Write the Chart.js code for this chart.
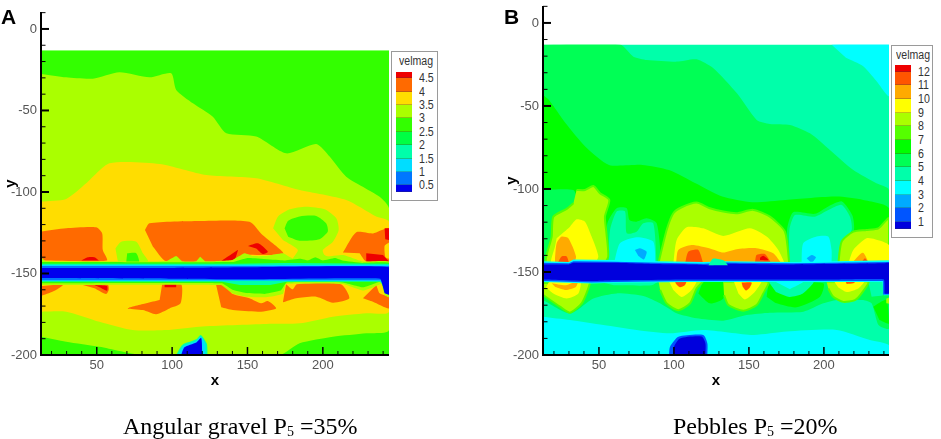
<!DOCTYPE html>
<html><head><meta charset="utf-8">
<script src="https://cdn.jsdelivr.net/npm/chart.js@4"></script>
<style>
html,body{margin:0;padding:0;background:#fff;width:941px;height:439px;overflow:hidden}
#stage{position:relative;width:941px;height:439px;filter:blur(.55px);font-family:"Liberation Sans",Arial,sans-serif}
canvas{position:absolute;top:0}
.letter{position:absolute;font-weight:bold;font-size:21px;line-height:20px;color:#000}
.cap{position:absolute;font-family:"Liberation Serif",serif;font-size:24px;line-height:26px;color:#000;white-space:nowrap}
.cap sub{font-size:14px;line-height:0;vertical-align:-2px}
.lg{position:absolute;border:1px solid #9a9a9a;background:#fff;box-sizing:border-box}
.lg .t{position:absolute;font-size:12px;color:#333;line-height:12px;transform:scaleX(.88);transform-origin:left center}
.lg .s{position:absolute}
.lg .l{position:absolute;font-size:12.5px;color:#333;line-height:14px;transform:scaleX(.85);transform-origin:left center}
</style></head><body><div id="stage">
<canvas id="a" width="470" height="439" style="left:0"></canvas>
<canvas id="b" width="471" height="439" style="left:470px"></canvas>
<div class="letter" style="left:1px;top:7px">A</div>
<div class="letter" style="left:504px;top:7px">B</div>
<div class="cap" style="left:123px;top:413px">Angular gravel P<sub>5</sub> =35%</div>
<div class="cap" style="left:673px;top:413px">Pebbles P<sub>5</sub> =20%</div>
</div>
<script>
// ---------- axis values ----------
const xTicks=[50,100,150,200];
const yTicks=[0,-50,-100,-150,-200];
const xMinor=[20,30,40,60,70,80,90,110,120,130,140,160,170,180,190,210,220,230,240];
const yMinor=[10,-10,-20,-30,-40,-60,-70,-80,-90,-110,-120,-130,-140,-160,-170,-180,-190];

// ---------- legend values ----------
const legendLevelsA=['4.5','4','3.5','3','2.5','2','1.5','1','0.5'];
const legendColorsA=['#ee0000','#ff6a00','#ffdd00','#aaff00','#33ff00','#00ff44','#00ffaa','#00ddff','#0077ff','#0000ee'];
const legendLevelsB=['12','11','10','9','8','7','6','5','4','3','2','1'];
const legendColorsB=['#ee0000','#ff5500','#ffaa00','#ffff00','#aaff00','#55ff00','#00ff00','#00ff55','#00ffaa','#00ffff','#00aaff','#0055ff','#0000dd'];

// ---------- panel A contours (x,y pairs) ----------
const A_BG=[13,-13,243.9,-13,243.9,-200,13,-200];
const A_LIME=[13,-27.6,29.7,-29.7,47.4,-30.5,65,-26.6,85,-29.7,99.4,-27.2,102.7,-37.4,113.8,-45.6,127,-53.8,136,-64,155.8,-66,175.7,-76.3,195.6,-70.6,204.5,-78.3,215.5,-90.6,237.7,-102.9,243.9,-110,243.9,-184.7,228.8,-186.7,206.7,-188.8,184.6,-192.8,171.3,-200,80.5,-200,51.8,-194.9,29.7,-191.8,13,-188.8];
const A_YELLOW=[13,-105.9,29.7,-104.3,43,-94.7,58.5,-82.4,91.7,-82.8,122.7,-89.6,155.8,-91.6,184.6,-98.8,215.5,-104.9,235.4,-115,243.9,-118.2,243.9,-173.4,228.8,-174.4,206.7,-176.5,184.6,-180.6,162.4,-181,118,-182.6,95.9,-184.7,73.8,-184.7,51.8,-179.6,29.7,-173.4,13,-173.4];
const A_RING=[167,-122.3,170.3,-115,178,-110.6,189,-109,201.2,-110.6,209,-116.2,210.5,-123.3,206.7,-130.5,200,-135.6,201.2,-138.7,209,-141.7,180,-141.7,183.4,-135.6,173.5,-129.5];
const A_CORE=[174.6,-122.3,177,-117.6,184.6,-115,195.6,-114.7,202.2,-119.2,203.3,-124.3,197.8,-129,184.6,-129.9,177,-127.4];
const A_O1=[13,-124.3,29.7,-122.3,49.6,-121.7,53.6,-125.4,54,-135.6,56.7,-142.1,13,-142.1];
const A_R1=[39.7,-142.1,44.1,-140.1,48.5,-140.1,51.4,-142.1];
const A_O2=[82,-123.3,85,-119.2,118,-117.8,151.3,-118.2,160,-126.4,173.9,-137.6,162.4,-138.7,147,-138.7,138,-142.5,96,-142.5,87.2,-133.5];
const A_R2=[150.3,-133.1,157,-131.5,163.5,-136.6,160.2,-138,155.8,-134.6];
const A_R3=[132.6,-142.3,140.3,-137.6,143.6,-135.6,141.4,-142.3];
const A_O3=[213.3,-137.2,222.2,-124.7,233.3,-125.4,243.9,-122.3,243.9,-142.7,228.8,-142.7,224.4,-137.6];
const A_Y3=[243.9,-131,241,-133,241.5,-140,243.9,-141];
const A_R4=[228.8,-137.6,239.9,-138.7,243.9,-142.7,228.8,-142.7];
const A_R5=[241,-122.3,243.9,-122.3,243.9,-129.4,241.4,-129];
const A_SPOT1=[62.4,-134.6,66.2,-130.5,76.2,-130.5,80.6,-137.6,84,-142.7,64,-142.7];
const A_SPOT2=[70.2,-137.6,76.2,-137.6,78,-143.4,69.5,-143.4];
const A_O4=[13,-157.7,27.5,-157,20.9,-161.1,13,-163.8];
const A_O5=[40.8,-157,57.4,-157,58,-160,56.2,-162.6,48.5,-159];
const A_R6=[48.5,-157,56.8,-157.7,56.8,-160.6,51.8,-158.5];
const A_O6=[93.4,-156.6,106,-156.6,105.6,-168.3,98.3,-171.4,89.4,-175,80.6,-172.4,70.6,-171.4,82.8,-168.3,91.7,-166.3];
const A_R7=[95,-156.6,102.7,-156.6,102.7,-158.5,95,-158.5];
const A_O7=[129.2,-157,134,-157,140.3,-162.6,151.3,-165.2,159,-168.3,163.5,-166.9,169,-171.4,158,-173.4,140.3,-172.4,132.6,-170.7];
const A_O8=[175.6,-156.6,180,-159.7,182.8,-156.6,212,-156.6,217.6,-165.2,206.7,-167.9,195.6,-164.2,182.3,-165.2,173.5,-167.7];
const A_O9=[235.5,-157,237.7,-162.1,243.9,-164.6,243.9,-171.4,233.2,-167.3,226.6,-165.2];
const A_BAND1=[13,-140,16.4,-142.5,96,-142.5,102.7,-139.3,106.7,-142.5,116,-142.5,118.6,-139.7,122,-142.5,140,-141.7,148,-137.6,153.5,-139.3,162.4,-139.3,173.5,-137.6,182,-141.7,213.3,-138.7,226.6,-142.7,243.9,-142.7,243.9,-164.6,241,-163.2,238.8,-156.4,235.5,-157.6,226.6,-160.5,213.3,-156.4,175.6,-156.4,173.5,-162.6,162.4,-164.6,149,-164.2,140,-162.2,132.3,-157.1,13,-157.1];
const A_BAND2=[13,-143,140,-143,150,-140.5,175,-142,185,-141,190,-142,195,-140,200,-142,208,-140.5,213,-142,226,-143.5,243.9,-143.5,243.9,-161,241,-160,238.5,-155,235,-156,226.6,-158.5,213,-155.5,176,-155.5,172,-160.5,162,-162.5,149,-162,140,-160,133,-156,13,-156];
const A_BAND3=[13,-144,145,-144,175,-143.5,243.9,-144,243.9,-159,241,-158.5,238,-155,176,-155,165,-157,145,-157,133,-155,13,-155];
const A_BAND4=[13,-144.8,243.9,-144.8,243.9,-158,241,-157.5,238,-154.6,13,-154.6];
const A_BAND5=[13,-145.4,243.9,-145.4,243.9,-161.5,241,-160.5,238.5,-154.2,13,-154.2];
const A_BAND6=[13,-146.6,100,-146.6,150,-146.2,243.9,-146.2,243.9,-163,241,-162,238,-153.2,150,-153.6,100,-153.2,13,-152.8];
const A_PIT1=[102.7,-200,106.7,-193.8,116,-190.4,119,-187.7,123,-193,123.5,-200];
const A_PIT2=[104,-200,107.4,-194.6,116,-191.4,119.2,-188.6,122,-193.5,122,-200];
const A_PIT3=[106,-200,108.2,-195.3,116,-192.3,119.3,-189.4,120,-200];
const A_MASK=[13,-13,243.9,-13,243.9,10.4,13,10.4];

// ---------- panel B contours (x,y pairs) ----------
const B_BG=[12.7,-13,243.4,-13,243.4,-200,12.7,-200];
const B_CORNER=[205,-13,243.4,-13,243.4,-44,235,-35,226,-26,214.7,-21];
const B_LOWCYAN=[12.7,-176.9,30.7,-178.9,53,-181.9,75.1,-184.9,97.4,-186.9,119.6,-184.9,153,-187.9,175.2,-185.9,208.5,-184.9,230.7,-191,243.4,-194,243.4,-200,12.7,-200];
const B_PIT1=[96.7,-200,97.4,-195,103,-189,119.6,-187.9,122.3,-193,122.3,-200];
const B_PIT2=[99.6,-200,100,-195,104,-190,118.5,-188.9,121,-193,121,-200];
const B_G5=[12.7,-13,64,-13,73,-20.3,82,-22.3,102,-23.3,115,-21.9,126.3,-27.3,142,-42.4,155.2,-58.4,164,-60.8,177.4,-61.4,190.7,-66.5,204,-76.5,219.6,-88.6,235,-96.6,243.4,-100.6,243.4,-184,236.4,-182,231.8,-168.9,226.2,-166.9,208.5,-166.9,199.6,-168.9,186.3,-173.9,164,-174.5,148.5,-175.9,132.9,-179.3,115.1,-177.9,101.8,-174.9,90.7,-168.9,79.6,-164.5,61.8,-162.9,46.3,-165.9,30.7,-175,12.7,-166.9];
const B_G6=[12.7,-43.4,16.7,-46.4,27.8,-60.4,41,-74.5,56.7,-85.5,78.9,-85.5,96.7,-88.6,114.4,-96.6,132.2,-104.6,152.2,-108,174.4,-106.6,208.5,-104.6,226.2,-106.6,243.4,-111.6,243.4,-148,12.7,-148];
const B_LEFT=[12.7,-100.6,32.9,-100.6,35.1,-106.6,28.5,-111.6,19.6,-116.7,18.5,-132.7,14.7,-143.8,12.7,-145];
const B_MID1=[52.9,-145,55.6,-120.7,61.8,-111.6,68.5,-111.6,70.3,-118.7,75.1,-119.7,81.8,-117.7,88.5,-120.7,91.8,-145];
const B_MID2=[56.2,-145,57.4,-124.7,61.8,-113.6,67.4,-113.6,68.5,-126.7,75.1,-125.7,79.6,-120.7,86.2,-120.7,88.5,-145];
const B_MID3=[60,-145,64,-132.7,75.1,-129.1,86.2,-131.7,87.6,-145];
const B_MID4=[74,-136.7,77.4,-135.7,81.8,-137.8,80,-142.4,76.3,-140.3];
const B_RGT1=[175,-145,175.5,-124,179.5,-114,194,-115,202.9,-110.5,212,-107.5,219,-116,220,-125,213,-135,211.5,-145];
const B_RGT2=[177,-145,177,-124.7,180.7,-115.7,194,-116.7,202.9,-112.7,211.8,-109.6,217.4,-116.7,218.5,-124.7,210.7,-134.7,209.6,-145];
const B_RGT3=[185.1,-145,186.2,-132.7,195.1,-128.7,202.9,-128.7,205.1,-136.7,205.1,-145];
const B_RGT4=[188.5,-141.7,191.8,-139.7,194.7,-141.1,191.8,-144.8];
const B_U1L=[35.1,-100.6,40.7,-100.6,46.3,-98.2,50.7,-102.6,56.9,-106.6,54,-116.7,55,-126.7,56.2,-140.7,52.9,-145,15.1,-145,18.5,-128.7,19.6,-116.7,28.5,-112,33,-108.6];
const B_U1Y=[21.8,-129.7,30.7,-122.7,35.1,-118.3,40.7,-119.7,45.1,-128.7,49.6,-140.7,46.3,-145,18.5,-145,20.7,-134.7];
const B_U1O=[20.7,-141.7,21.8,-132.7,25.1,-128.7,29.6,-129.7,34.7,-140.7,32.8,-145,20.7,-145];
const B_U1R=[22.3,-145,25.1,-140.7,28.5,-140.7,30.2,-145];
const B_U2L=[89.6,-145,95.2,-124.6,99.6,-114.6,105.2,-111,115.1,-108.2,124,-111.6,132.9,-113.6,141.8,-114.6,152.9,-112.6,164,-116.7,174,-125.7,176.9,-145];
const B_U2Y=[99.6,-145,101.8,-130.7,108.5,-123,119.6,-123.7,132.9,-128.3,150.7,-123.7,161.8,-128.7,169.6,-136.7,174,-145];
const B_U2O=[101.4,-145,102.9,-136.7,111.8,-133.7,124,-135.8,132.9,-138.3,141.8,-136.3,155.1,-135.7,166.2,-138.7,171.8,-145];
const B_U2R1=[107.4,-145,109.6,-137.8,116.3,-136.7,119.6,-145];
const B_U2R2=[154,-145,155.1,-139.8,160.7,-139.2,165.1,-145];
const B_U2D=[157.4,-141.4,159.6,-140.2,163,-142.8,157.4,-142.8];
const B_NOTCH=[123,-146,126,-142,133,-143,136,-146];
const B_U3L=[209.6,-145,211.8,-131.7,219.6,-125.7,228.4,-124.7,236.3,-123.7,243.4,-117.7,243.4,-145];
const B_U3Y=[216.2,-145,219.6,-136.7,228.4,-129.7,234,-130.3,243.4,-133.8,243.4,-145];
const B_U3O=[218.2,-145,225.9,-138.4,230.3,-145];
const B_U3R=[224.5,-145,227.4,-141.7,230,-145];
const B_D1L=[12.7,-156.8,39,-154.8,44,-154.8,42.9,-159.9,38.5,-168.9,30.7,-174.5,24,-170.9,12.7,-163.8];
const B_D1Y=[17.4,-154.8,37.4,-154.8,36.3,-162.9,28.5,-165.9,19.6,-162.9,14.7,-159.3];
const B_D1O=[18.5,-156.8,28,-158,35.9,-155.4,34.6,-159,28,-160.8,20.9,-159];
const B_D2L=[89.6,-154.8,119.6,-154.8,115.1,-159.9,110.7,-168.9,102.9,-173,95.2,-168.9,90.8,-160.8];
const B_D2Y=[96.3,-154.8,115.1,-154.8,111.8,-160.8,105.2,-165,99.6,-160.8];
const B_D2O=[100,-154.4,108.5,-154.4,107.4,-157.8,104,-159.2,101.4,-157.2];
const B_D3L=[132.9,-155.8,162.9,-155.8,159.6,-162.9,155.2,-169.9,146.2,-173.3,136.3,-169.9,133.4,-163.9];
const B_D3Y=[139.6,-154.8,158.5,-154.8,154,-161.9,147.4,-166.5,143,-162.9];
const B_D3O=[145.1,-156.4,151.8,-156.4,150.7,-159.2,148,-161.2,145.8,-158.8];
const B_D4L=[201.8,-155.8,229.6,-155.8,225.1,-162.9,220.7,-166.9,212.9,-168,206.2,-164.9,202.9,-159.9];
const B_D4Y=[206.2,-154.8,227.3,-154.8,222.9,-159.9,215.2,-162,209.6,-159.3];
const B_D4O=[214,-154.8,221.8,-154.8,219.6,-156.8,215.2,-157.2];
const B_G6A=[119.6,-154.8,132.9,-155.8,132.9,-165.9,124,-168.9,116.3,-162.9];
const B_G6B=[163,-156.8,199.6,-156.8,197.4,-164.9,181.8,-171.3,168.5,-168.9,161.8,-164.9];
const B_T1=[163,-155.8,193,-155.8,186,-163,177,-165,168,-162];
const B_C1=[167.4,-155.8,186.3,-155.8,177.4,-160.4];
const B_T2=[229.6,-155.8,243.4,-155.8,243.4,-162.9,231.8,-164.9];
const B_G6C=[232.9,-170.9,241.6,-166.9,243.4,-181,237,-178.9];
const B_L9=[241.6,-166,243.4,-165.5,243.4,-169,241.6,-168.9];
const B_TUNDER=[46,-155,90,-155,85,-158,60,-158];
const B_BAND1=[12.7,-143.6,30,-144,33,-142.5,60,-142.8,90,-143.6,120,-144,135,-143.5,180,-144,243.4,-143,243.4,-164,240,-164,239,-156,205,-156,110,-156,60,-156.5,45,-157,12.7,-156];
const B_BAND2=[12.7,-144.4,30,-144.8,33,-143.6,60,-143.8,90,-144.4,120,-145,135,-144.3,180,-144.8,243.4,-144,243.4,-163.5,240,-163.5,239.5,-155.4,205,-155.4,110,-155.4,60,-156,45,-156.4,12.7,-155.4];
const B_BAND3=[12.7,-145.5,30,-145.5,33,-144.5,60,-144.5,85,-145.2,115,-145.5,124,-146,135,-145,177,-145.5,240,-144.8,243.4,-144.5,243.4,-163,240.5,-163,240,-154.5,205,-154.5,110,-154.5,60,-155,45,-155.5,12.7,-154.5];
const B_MASK=[12.7,-13,243.4,-13,243.4,10.2,12.7,10.2];

const CA={r:'#ee0000',o:'#ff6a00',y:'#ffdd00',l:'#aaff00',g:'#33ff00',g2:'#00ff44',t:'#00ffaa',c:'#00ddff',b:'#0077ff',d:'#0000ee'};
const CB={r:'#ee0000',ro:'#ff5500',o:'#ffaa00',y:'#ffff00',l:'#aaff00',l2:'#55ff00',g:'#00ff00',g2:'#00ff55',t:'#00ffaa',c:'#00ffff',b1:'#00aaff',b2:'#0055ff',d:'#0000dd'};

const layersA=[[A_BG,CA.g,0],[A_LIME,CA.l],[A_YELLOW,CA.y],[A_RING,CA.l],[A_CORE,CA.g],
[A_O1,CA.o],[A_R1,CA.r],[A_O2,CA.o],[A_R2,CA.r],[A_R3,CA.r],[A_O3,CA.o],[A_Y3,CA.y],[A_R4,CA.r,0],[A_R5,CA.r,0],
[A_SPOT1,CA.l],[A_SPOT2,CA.g],[A_O4,CA.o],[A_O5,CA.o],[A_R6,CA.r],[A_O6,CA.o],[A_R7,CA.r,0],[A_O7,CA.o],[A_O8,CA.o],[A_O9,CA.o],
[A_PIT1,CA.t],[A_PIT2,CA.c],[A_PIT3,CA.d],
[A_BAND1,CA.l,0.1],[A_BAND2,CA.g,0.1],[A_BAND3,CA.t,0],[A_BAND4,CA.c,0],[A_BAND5,CA.b,0],[A_BAND6,CA.d,0.1],[A_MASK,'#ffffff',0]];
const layersB=[[B_BG,CB.t,0],[B_CORNER,CB.c],[B_LOWCYAN,CB.c],[B_PIT1,CB.b2],[B_PIT2,CB.d],[B_G5,CB.g2],[B_G6,CB.g],[B_LEFT,CB.g2],
[B_MID1,CB.g2],[B_MID2,CB.t],[B_MID3,CB.c],[B_MID4,CB.b1],[B_RGT1,CB.g2],[B_RGT2,CB.t],[B_RGT3,CB.c],[B_RGT4,CB.b1],
[B_U1L,CB.l,undefined,CB.l2],[B_U1Y,CB.y],[B_U1O,CB.o],[B_U1R,CB.ro],[B_U2L,CB.l,undefined,CB.l2],[B_U2Y,CB.y],[B_U2O,CB.o],[B_U2R1,CB.ro],[B_U2R2,CB.ro],[B_U2D,CB.r],[B_U3L,CB.l,undefined,CB.l2],[B_U3Y,CB.y],[B_U3O,CB.o],[B_U3R,CB.ro],
[B_G6A,CB.g],[B_G6B,CB.g],[B_T1,CB.t],[B_C1,CB.c],[B_T2,CB.t],[B_G6C,CB.g],[B_L9,CB.l],[B_TUNDER,CB.t],
[B_D1L,CB.l,undefined,CB.l2],[B_D1Y,CB.y],[B_D1O,CB.o],[B_D2L,CB.l,undefined,CB.l2],[B_D2Y,CB.y],[B_D2O,CB.ro],[B_D3L,CB.l,undefined,CB.l2],[B_D3Y,CB.y],[B_D3O,CB.ro],[B_D4L,CB.l,undefined,CB.l2],[B_D4Y,CB.y],[B_D4O,CB.ro],
[B_BAND1,CB.c,0],[B_BAND2,CB.b2,0],[B_BAND3,CB.d,0.1],[B_NOTCH,CB.t],[B_MASK,'#ffffff',0]];

function toPoints(flat){const p=[];for(let i=0;i<flat.length;i+=2)p.push({x:flat[i],y:flat[i+1]});return p;}

const insideTicks={id:'insideTicks',afterDatasetsDraw(c){
  const g=c.ctx,x=c.scales.x,y=c.scales.y,L=c.chartArea.left,B=c.chartArea.bottom;
  g.save();g.strokeStyle='#000';
  const seg=(x0,y0,x1,y1,w)=>{g.lineWidth=w;g.beginPath();g.moveTo(x0,y0);g.lineTo(x1,y1);g.stroke();};
  xMinor.forEach(v=>{const p=x.getPixelForValue(v);seg(p,B,p,B-4,1);});
  xTicks.forEach(v=>{const p=x.getPixelForValue(v);seg(p,B,p,B-8,1.5);});
  yMinor.forEach(v=>{const p=y.getPixelForValue(v);seg(L,p,L+4.5,p,1);});
  yTicks.forEach(v=>{const p=y.getPixelForValue(v);seg(L,p,L+8,p,2);});
  seg(L,c.chartArea.top,L,B+1,2);seg(L-1,B,c.chartArea.right,B,2);
  g.restore();
}};

function panel(id,layers,cfg){
  const noPad=s=>{s.paddingTop=0;s.paddingBottom=0;s.paddingLeft=0;s.paddingRight=0;};
  new Chart(document.getElementById(id),{
    type:'scatter',
    data:{datasets:layers.slice().reverse().map(l=>({
      data:toPoints(l[0]),showLine:true,fill:'shape',backgroundColor:l[1],borderWidth:l[3]?2:0,borderColor:l[3]||l[1],
      pointRadius:0,pointHoverRadius:0,tension:l[2]===undefined?0.22:l[2]}))},
    options:{responsive:false,animation:false,devicePixelRatio:1,
      events:[],
      layout:{padding:{left:0,top:cfg.top,right:cfg.right,bottom:cfg.bottom}},
      plugins:{legend:{display:false},tooltip:{enabled:false},title:{display:false}},
      scales:{
        x:{type:'linear',min:cfg.xMin,max:cfg.xMax,
          grid:{display:false,drawTicks:false},border:{display:false},
          afterBuildTicks:s=>{s.ticks=xTicks.map(v=>({value:v}));},
          afterFit:s=>{s.height=cfg.xH;noPad(s);},
          ticks:{autoSkip:false,maxRotation:0,padding:3,color:'#555',font:{family:'"Liberation Sans"',size:13}},
          title:{display:true,text:'x',color:'#000',padding:{top:1,bottom:0},font:{family:'"Liberation Sans"',size:15,weight:'bold'}}},
        y:{type:'linear',min:-200,max:cfg.yMax,
          grid:{display:false,drawTicks:false},border:{display:false},
          afterBuildTicks:s=>{s.ticks=yTicks.map(v=>({value:v}));},
          afterFit:s=>{s.width=cfg.yW;noPad(s);},
          ticks:{autoSkip:false,padding:4,color:'#555',font:{family:'"Liberation Sans"',size:13}},
          title:{display:true,text:'y',color:'#000',padding:{top:cfg.titleGap,bottom:0},font:{family:'"Liberation Sans"',size:15,weight:'bold'}}}
      }},
    plugins:[insideTicks]});
}
panel('a',layersA,{top:12,right:81,bottom:49,xH:35,yW:41,xMin:13,xMax:243.9,yMax:10.4,titleGap:2});
panel('b',layersB,{top:6,right:52,bottom:49,xH:35,yW:73,xMin:12.7,xMax:243.4,yMax:10.2,titleGap:33});

function legend(box,sw,lab,title,levels,colors){
  const st=document.getElementById('stage'),d=document.createElement('div');
  d.className='lg';d.style.cssText=`left:${box[0]}px;top:${box[1]}px;width:${box[2]}px;height:${box[3]}px`;
  const t=document.createElement('div');t.className='t';t.textContent=title;t.style.cssText=`left:${lab.tx}px;top:${lab.ty}px`;d.appendChild(t);
  let y=sw.top-box[1]-1;
  colors.forEach((c,i)=>{const h=(i===0||i===colors.length-1)?sw.h/2:sw.h;
    const s=document.createElement('div');s.className='s';
    s.style.cssText=`left:${sw.x-box[0]-1}px;top:${y}px;width:${sw.w}px;height:${h}px;background:${c};box-shadow:inset 0 -1px 0 rgba(60,60,60,.3)`;
    d.appendChild(s);y+=h;});
  levels.forEach((v,i)=>{const e=document.createElement('div');e.className='l';e.textContent=v;
    e.style.cssText=`left:${lab.x-box[0]-1}px;top:${sw.top-box[1]-1+sw.h/2+i*sw.h-7}px`;d.appendChild(e);});
  st.appendChild(d);
}
legend([391,51,47,150],{x:396,top:71.5,w:15.5,h:13.4},{x:419,tx:7,ty:3},'velmag',legendLevelsA,legendColorsA);
legend([891,45,42,193],{x:894.5,top:65,w:16,h:13.65},{x:918,tx:3.5,ty:3},'velmag',legendLevelsB,legendColorsB);
</script></body></html>
